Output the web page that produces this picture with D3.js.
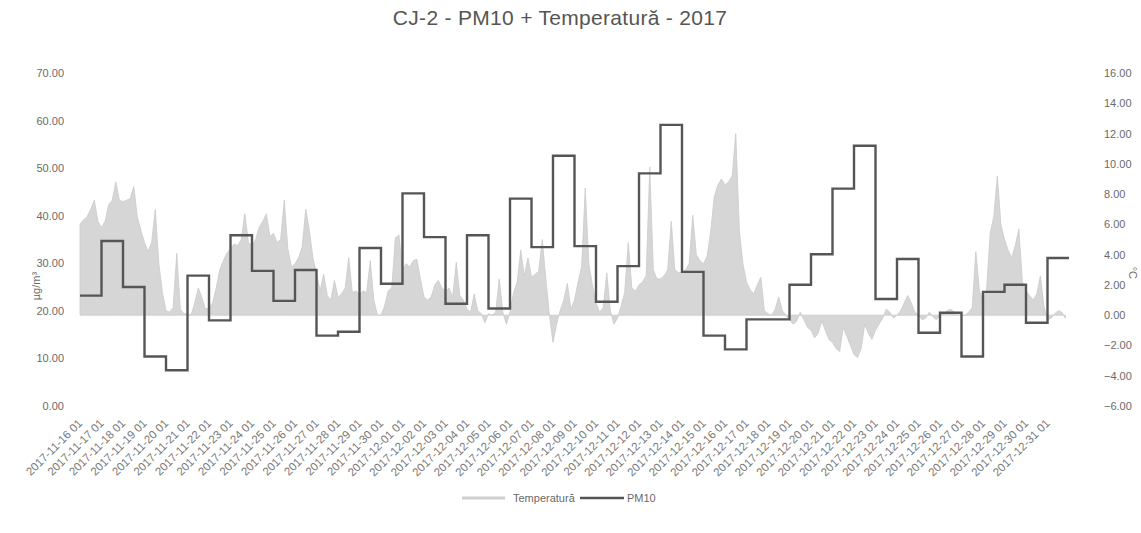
<!DOCTYPE html>
<html>
<head>
<meta charset="utf-8">
<script src="https://cdn.jsdelivr.net/npm/d3@7"></script>
<style>
  body { margin: 0; background: #fff; }
  svg text { font-family: "Liberation Sans", Arial, sans-serif; fill: #6a6a6a; }
</style>
</head>
<body>
<div id="chart"></div>
<script>
// Daily labels on the x axis (one per 24 hourly categories)
const dayLabels = [
  "2017-11-16 01", "2017-11-17 01", "2017-11-18 01", "2017-11-19 01", "2017-11-20 01",
  "2017-11-21 01", "2017-11-22 01", "2017-11-23 01", "2017-11-24 01", "2017-11-25 01",
  "2017-11-26 01", "2017-11-27 01", "2017-11-28 01", "2017-11-29 01", "2017-11-30 01",
  "2017-12-01 01", "2017-12-02 01", "2017-12-03 01", "2017-12-04 01", "2017-12-05 01",
  "2017-12-06 01", "2017-12-07 01", "2017-12-08 01", "2017-12-09 01", "2017-12-10 01",
  "2017-12-11 01", "2017-12-12 01", "2017-12-13 01", "2017-12-14 01", "2017-12-15 01",
  "2017-12-16 01", "2017-12-17 01", "2017-12-18 01", "2017-12-19 01", "2017-12-20 01",
  "2017-12-21 01", "2017-12-22 01", "2017-12-23 01", "2017-12-24 01", "2017-12-25 01",
  "2017-12-26 01", "2017-12-27 01", "2017-12-28 01", "2017-12-29 01", "2017-12-30 01",
  "2017-12-31 01"
];

// Daily PM10 means (µg/m³), drawn as steps
const pm10 = [
  23.2, 34.7, 25.0, 10.4, 7.5, 27.4, 18.0, 35.9, 28.4, 22.1,
  28.6, 14.8, 15.6, 33.2, 25.7, 44.7, 35.5, 21.5, 35.9, 20.5,
  43.6, 33.4, 52.6, 33.6, 21.9, 29.4, 48.9, 59.1, 28.2, 14.8,
  11.9, 18.2, 18.2, 25.5, 31.9, 45.7, 54.7, 22.5, 30.9, 15.4,
  19.6, 10.4, 24.0, 25.5, 17.5, 31.1
];

// Temperature (°C) read every 4 hours: 01, 05, 09, 13, 17, 21
const tempHours = [1, 5, 9, 13, 17, 21];
const temperature = [
  6.0, 6.3, 6.5, 7.0, 7.6, 6.2,      // 11-16
  5.8, 6.2, 7.3, 7.6, 8.8, 7.6,      // 11-17
  7.5, 7.6, 7.7, 8.5, 6.5, 5.6,      // 11-18
  4.8, 4.2, 4.8, 7.0, 3.4, 1.5,      // 11-19
  0.3, 0.2, 0.5, 4.1, 0.4, 0.1,      // 11-20
  0.1, 0.0, 0.8, 1.8, 1.2, 0.4,      // 11-21
  0.5, 0.8, 1.8, 3.0, 3.6, 4.1,      // 11-22
  4.4, 4.7, 4.6, 5.0, 6.7, 4.8,      // 11-23
  4.6, 5.0, 5.8, 6.2, 6.7, 5.2,      // 11-24
  5.4, 4.8, 5.0, 7.6, 4.4, 3.2,      // 11-25
  3.4, 3.8, 4.5, 7.0, 5.6, 3.8,      // 11-26
  2.8, 1.6, 2.7, 1.3, 1.0, 2.3,      // 11-27
  1.2, 1.4, 1.8, 3.8, 1.5, 1.6,      // 11-28
  1.4, 1.6, 1.5, 3.6, 1.0, 0.0,      // 11-29
  0.0, 0.6, 1.6, 1.8, 5.1, 5.3,      // 11-30
  3.0, 3.4, 3.2, 3.6, 3.7, 2.4,      // 12-01
  1.2, 1.0, 1.2, 2.0, 2.3, 1.8,      // 12-02
  1.6, 1.8, 1.2, 3.5, 1.3, 1.0,      // 12-03
  0.4, 0.2, 1.4, 0.3, 0.1, -0.5,     // 12-04
  0.1, 0.0, 0.2, 2.4, 0.2, -0.6,     // 12-05
  0.2, 1.5, 2.2, 4.3, 2.6, 3.8,      // 12-06
  2.5, 2.7, 2.9, 5.0, 2.4, 0.0,      // 12-07
  -1.8, -0.6, 0.3, 1.0, 2.1, 0.4,    // 12-08
  1.0, 2.2, 3.2, 8.4, 3.4, 2.0,      // 12-09
  0.8, 0.2, 0.5, 2.8, 0.3, -0.6,     // 12-10
  -0.2, 0.6, 1.5, 4.8, 1.8, 1.6,     // 12-11
  2.0, 2.2, 2.6, 9.8, 3.0, 2.4,      // 12-12
  2.4, 2.6, 3.0, 6.2, 3.0, 2.8,      // 12-13
  2.8, 3.0, 3.4, 6.6, 4.0, 3.6,      // 12-14
  3.4, 3.9, 5.5, 7.8, 8.6, 9.0,      // 12-15
  8.6, 8.8, 9.2, 12.0, 5.6, 3.4,     // 12-16
  2.2, 1.7, 1.4, 2.0, 2.5, 0.3,      // 12-17
  0.1, 0.0, 0.4, 1.2, 0.3, 0.0,      // 12-18
  -0.3, -0.6, -0.4, 0.2, -0.3, -0.8, // 12-19
  -1.0, -1.5, -1.2, -0.4, -1.0, -1.6,// 12-20
  -1.8, -2.2, -2.4, -0.8, -1.4, -2.0,// 12-21
  -2.6, -2.8, -2.2, -0.6, -1.2, -1.6,// 12-22
  -1.0, -0.6, -0.2, 0.4, 0.2, -0.2,  // 12-23
  0.0, 0.3, 0.8, 1.3, 0.8, 0.2,      // 12-24
  0.0, -0.3, -0.2, 0.2, -0.1, -0.3,  // 12-25
  0.0, 0.1, 0.3, 0.4, 0.2, 0.0,      // 12-26
  0.0, 0.0, 0.2, 0.5, 4.2, 1.6,      // 12-27
  1.0, 1.7, 5.4, 6.5, 9.2, 6.0,      // 12-28
  5.0, 4.3, 3.8, 4.6, 5.7, 2.2,      // 12-29
  1.6, 1.3, 1.0, 1.4, 2.6, 0.6,      // 12-30
  -0.3, -0.2, 0.1, 0.3, 0.2, -0.2    // 12-31
];

const leftTicks = [0, 10, 20, 30, 40, 50, 60, 70];
const rightTicks = [-6, -4, -2, 0, 2, 4, 6, 8, 10, 12, 14, 16];

const chart = {
  width: 1141,
  height: 533,
  margin: { top: 73, right: 72, bottom: 127, left: 80 }
};
chart.innerWidth = chart.width - chart.margin.left - chart.margin.right;
chart.innerHeight = chart.height - chart.margin.top - chart.margin.bottom;

const svg = d3.select("#chart")
  .append("svg")
  .attr("width", chart.width)
  .attr("height", chart.height);

const g = svg.append("g")
  .attr("transform", `translate(${chart.margin.left}, ${chart.margin.top})`);

// x in hours since 2017-11-16 01:00
const hoursTotal = dayLabels.length * 24;
const x = d3.scaleLinear().domain([0, hoursTotal]).range([0, chart.innerWidth]);
const yPm = d3.scaleLinear().domain([0, 70]).range([chart.innerHeight, 0]);
const yTemp = d3.scaleLinear().domain([-6, 16]).range([chart.innerHeight, 0]);

// Temperature area
const tempPoints = temperature.map((t, i) => ({
  h: Math.floor(i / tempHours.length) * 24 + (tempHours[i % tempHours.length] - 1),
  t: t
}));

g.append("path")
  .datum(tempPoints)
  .attr("fill", "#d6d6d6")
  .attr("stroke", "#cacaca")
  .attr("stroke-width", 0.8)
  .attr("d", d3.area()
    .x(d => x(d.h))
    .y0(yTemp(0))
    .y1(d => yTemp(d.t)));

// PM10 step line (last value repeated to close the final day)
const pmPoints = pm10.map((v, i) => ({ h: i * 24, v: v }));
pmPoints.push({ h: hoursTotal, v: pm10[pm10.length - 1] });

g.append("path")
  .datum(pmPoints)
  .attr("fill", "none")
  .attr("stroke", "#555")
  .attr("stroke-width", 2.4)
  .attr("d", d3.line()
    .curve(d3.curveStepAfter)
    .x(d => x(d.h))
    .y(d => yPm(d.v)));

// Left axis
const leftAxis = g.append("g")
  .call(d3.axisLeft(yPm).tickValues(leftTicks).tickFormat(d3.format(".2f")).tickSize(0).tickPadding(16));
leftAxis.select(".domain").remove();
leftAxis.selectAll("text").style("font-size", "11px");

// Right axis
const rightAxis = g.append("g")
  .attr("transform", `translate(${chart.innerWidth}, 0)`)
  .call(d3.axisRight(yTemp).tickValues(rightTicks).tickFormat(d3.format(".2f")).tickSize(0).tickPadding(35));
rightAxis.select(".domain").remove();
rightAxis.selectAll("text").style("font-size", "11px");

// Bottom axis: a label every 24 categories, rotated
const xAxis = g.append("g")
  .attr("transform", `translate(0, ${chart.innerHeight})`);
xAxis.selectAll("text")
  .data(dayLabels)
  .enter()
  .append("text")
  .attr("transform", (d, i) => `translate(${x(i * 24) + 3}, 18) rotate(-45)`)
  .attr("text-anchor", "end")
  .style("font-size", "11.5px")
  .style("fill", "#777")
  .text(d => d);

// Axis titles
svg.append("text")
  .attr("transform", `translate(40, ${chart.margin.top + chart.innerHeight * 0.64}) rotate(-90)`)
  .attr("text-anchor", "middle")
  .style("font-size", "11px")
  .text("µg/m³");

svg.append("text")
  .attr("transform", `translate(1129, ${chart.margin.top + chart.innerHeight * 0.6}) rotate(90)`)
  .attr("text-anchor", "middle")
  .style("font-size", "11px")
  .text("°C");

// Title
svg.append("text")
  .attr("x", 560)
  .attr("y", 25)
  .attr("text-anchor", "middle")
  .style("font-size", "21px")
  .style("letter-spacing", "0.3px")
  .style("fill", "#555")
  .text("CJ-2 - PM10 + Temperatură - 2017");

// Legend
const legend = svg.append("g").attr("transform", "translate(0, 502)");
legend.append("line")
  .attr("x1", 462).attr("x2", 505).attr("y1", -4).attr("y2", -4)
  .attr("stroke", "#d0d0d0").attr("stroke-width", 3);
legend.append("text")
  .attr("x", 513).attr("y", 0)
  .style("font-size", "11px")
  .text("Temperatură");
legend.append("line")
  .attr("x1", 580).attr("x2", 624).attr("y1", -4).attr("y2", -4)
  .attr("stroke", "#555").attr("stroke-width", 2.4);
legend.append("text")
  .attr("x", 627).attr("y", 0)
  .style("font-size", "11px")
  .text("PM10");
</script>
</body>
</html>
